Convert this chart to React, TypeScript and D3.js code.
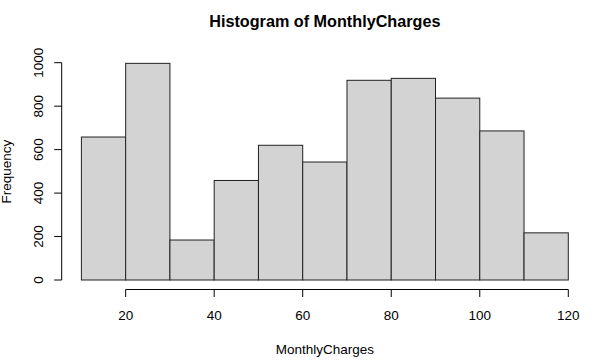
import React from 'react';
import * as d3 from 'd3';

// histogram bins of MonthlyCharges (width 10) and counts
const binStarts = [10, 20, 30, 40, 50, 60, 70, 80, 90, 100, 110];
const counts = [658, 997, 184, 458, 620, 543, 919, 928, 837, 686, 217];
const xTicks = [20, 40, 60, 80, 100, 120];
const yTicks = [0, 200, 400, 600, 800, 1000];

const W = 609;
const H = 364;
const font = 'Liberation Sans, Arial, sans-serif';
const fs = 13.5;

const App = () => {
  const x = d3.scaleLinear().domain([10, 120]).range([81.4, 568.3]);
  const y = d3.scaleLinear().domain([0, 1000]).range([280, 62.7]);
  const xAxisY = 289.5;
  const yAxisX = 61.7;
  // R 的绘图区域在数据范围外扩 4%
  const cx = (x(10 - 4.4) + x(120 + 4.4)) / 2;
  const cy = y(998 / 2);

  return (
    <svg width={W} height={H} style={{ display: 'block', position: 'absolute', left: 0, top: 0 }}>
      <rect width={W} height={H} fill="#fff" />
      {/* 柱子 */}
      {binStarts.map((b, i) => (
        <rect
          key={b}
          x={x(b)}
          y={y(counts[i])}
          width={x(b + 10) - x(b)}
          height={y(0) - y(counts[i])}
          fill="#d3d3d3"
          stroke="#222"
          strokeWidth={1}
        />
      ))}
      {/* x轴 */}
      <g fill="none" stroke="#000" strokeWidth={1}>
        <line x1={x(xTicks[0])} x2={x(xTicks[xTicks.length - 1])} y1={xAxisY} y2={xAxisY} />
        {xTicks.map(t => (
          <line key={t} x1={x(t)} x2={x(t)} y1={xAxisY} y2={xAxisY + 7.5} />
        ))}
      </g>
      {xTicks.map(t => (
        <text key={t} x={x(t)} y={320} textAnchor="middle" fontSize={fs} fontFamily={font} fill="#000">
          {t}
        </text>
      ))}
      {/* y轴 */}
      <g fill="none" stroke="#000" strokeWidth={1}>
        <line x1={yAxisX} x2={yAxisX} y1={y(0)} y2={y(1000)} />
        {yTicks.map(t => (
          <line key={t} x1={yAxisX} x2={yAxisX - 7.5} y1={y(t)} y2={y(t)} />
        ))}
      </g>
      {yTicks.map(t => (
        <text
          key={t}
          transform={`translate(42.5, ${y(t)}) rotate(-90)`}
          textAnchor="middle"
          fontSize={fs}
          fontFamily={font}
          fill="#000"
        >
          {t}
        </text>
      ))}
      {/* 标题和轴标签 */}
      <text x={cx} y={26.7} textAnchor="middle" fontSize={fs * 1.2} fontWeight="bold" fontFamily={font}>
        Histogram of MonthlyCharges
      </text>
      <text x={cx} y={353.5} textAnchor="middle" fontSize={fs} fontFamily={font}>
        MonthlyCharges
      </text>
      <text transform={`translate(10.5, ${cy}) rotate(-90)`} textAnchor="middle" fontSize={fs} fontFamily={font}>
        Frequency
      </text>
    </svg>
  );
};

export default App;
